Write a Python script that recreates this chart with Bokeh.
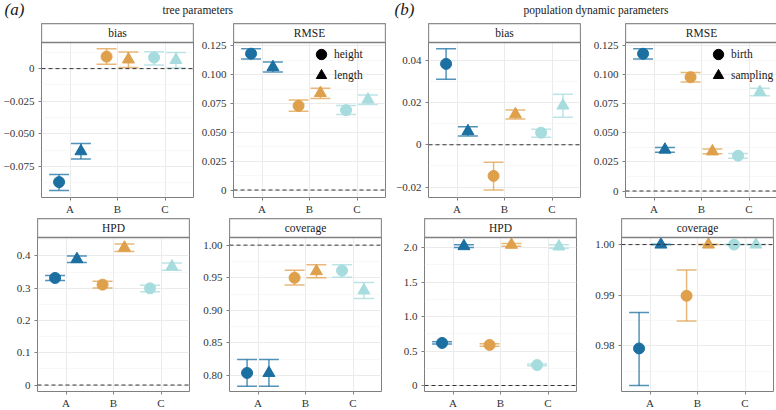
import numpy as np
from bokeh.plotting import figure
from bokeh.layouts import column, row
from bokeh.models import (ColumnDataSource, FixedTicker, Range1d, Span,
                          Legend, LegendItem, BoxAnnotation, Label)
from bokeh.core.properties import value
from bokeh.embed import file_html
from bokeh.resources import INLINE

# ---------------- data ----------------
categories = ["A", "B", "C"]
colors = ["#1B6FA1", "#DFA04C", "#A7DCDE"]

# (a) tree parameters : series "height" (circle) and "length" (triangle)
tree_bias_height = [-0.0869, 0.0092, 0.0085]
tree_bias_height_lo = [-0.0933, 0.0034, 0.0028]
tree_bias_height_hi = [-0.0810, 0.0152, 0.0130]
tree_bias_length = [-0.0633, 0.0070, 0.0066]
tree_bias_length_lo = [-0.0692, 0.0008, 0.0005]
tree_bias_length_hi = [-0.0574, 0.0128, 0.0123]

tree_rmse_height = [0.1183, 0.0731, 0.0693]
tree_rmse_height_lo = [0.1136, 0.0684, 0.0655]
tree_rmse_height_hi = [0.1226, 0.0780, 0.0734]
tree_rmse_length = [0.1066, 0.0841, 0.0785]
tree_rmse_length_lo = [0.1025, 0.0795, 0.0743]
tree_rmse_length_hi = [0.1110, 0.0883, 0.0824]

tree_hpd_height = [0.3316, 0.3110, 0.2995]
tree_hpd_height_lo = [0.3235, 0.3005, 0.2890]
tree_hpd_height_hi = [0.3390, 0.3213, 0.3089]
tree_hpd_length = [0.3900, 0.4255, 0.3670]
tree_hpd_length_lo = [0.3795, 0.4137, 0.3555]
tree_hpd_length_hi = [0.4000, 0.4370, 0.3780]

tree_cov_height = [0.8040, 0.9500, 0.9610]
tree_cov_height_lo = [0.7836, 0.9387, 0.9506]
tree_cov_height_hi = [0.8245, 0.9613, 0.9700]
tree_cov_length = [0.8040, 0.9600, 0.9305]
tree_cov_length_lo = [0.7836, 0.9500, 0.9182]
tree_cov_length_hi = [0.8245, 0.9700, 0.9427]

# (b) population dynamic parameters : series "birth" (circle) and "sampling" (triangle)
pop_bias_birth = [0.0382, -0.0147, 0.0057]
pop_bias_birth_lo = [0.0310, -0.0213, 0.0036]
pop_bias_birth_hi = [0.0453, -0.0083, 0.0073]
pop_bias_sampling = [0.0064, 0.0144, 0.0185]
pop_bias_sampling_lo = [0.0041, 0.0122, 0.0130]
pop_bias_sampling_hi = [0.0085, 0.0164, 0.0239]

pop_rmse_birth = [0.1183, 0.0981, 0.0304]
pop_rmse_birth_lo = [0.1137, 0.0940, 0.0283]
pop_rmse_birth_hi = [0.1227, 0.1021, 0.0324]
pop_rmse_sampling = [0.0356, 0.0341, 0.0853]
pop_rmse_sampling_lo = [0.0335, 0.0321, 0.0821]
pop_rmse_sampling_hi = [0.0376, 0.0361, 0.0885]

pop_hpd_birth = [0.617, 0.588, 0.297]
pop_hpd_birth_lo = [0.600, 0.570, 0.285]
pop_hpd_birth_hi = [0.635, 0.605, 0.310]
pop_hpd_sampling = [2.020, 2.040, 2.015]
pop_hpd_sampling_lo = [2.000, 2.020, 1.990]
pop_hpd_sampling_hi = [2.040, 2.060, 2.040]

pop_cov_birth = [0.9795, 0.9899, 1.0000]
pop_cov_birth_lo = [0.9722, 0.9849, 1.0000]
pop_cov_birth_hi = [0.9866, 0.9950, 1.0000]
pop_cov_sampling = [1.0000, 1.0000, 1.0000]
pop_cov_sampling_lo = [1.0000, 1.0000, 1.0000]
pop_cov_sampling_hi = [1.0000, 1.0000, 1.0000]

# tick values and labels
ticks_tree_bias = [-0.075, -0.05, -0.025, 0.0]
labels_tree_bias = ["\u22120.075", "\u22120.050", "\u22120.025", "0"]
ticks_rmse = [0.0, 0.025, 0.05, 0.075, 0.1, 0.125]
labels_rmse = ["0", "0.025", "0.050", "0.075", "0.100", "0.125"]
ticks_pop_bias = [-0.02, 0.0, 0.02, 0.04]
labels_pop_bias = ["\u22120.02", "0", "0.02", "0.04"]
ticks_tree_hpd = [0.0, 0.1, 0.2, 0.3, 0.4]
labels_tree_hpd = ["0", "0.1", "0.2", "0.3", "0.4"]
ticks_tree_cov = [0.80, 0.85, 0.90, 0.95, 1.00]
labels_tree_cov = ["0.80", "0.85", "0.90", "0.95", "1.00"]
ticks_pop_hpd = [0.0, 0.5, 1.0, 1.5, 2.0]
labels_pop_hpd = ["0", "0.5", "1.0", "1.5", "2.0"]
ticks_pop_cov = [0.98, 0.99, 1.00]
labels_pop_cov = ["0.98", "0.99", "1.00"]

# ---------------- styling ----------------
FONT = "Liberation Serif"
DODGE = 0.23
CAP = 0.21
FW = 152
STRIP = 19
BORDER_COL = "#7f7f7f"
XLO, XHI = 0.4, 3.6
LEG_G = 26


def minor_of(ticks, lo, hi):
    t = np.array(ticks, dtype=float)
    step = t[1] - t[0]
    m = np.arange(t[0] - step / 2, hi + step, step)
    return [float(v) for v in m if lo <= v <= hi]


def panel(strip, series, yr, ticks, labels, ref, left, right, dh, top, bottom,
          legend_names=None, legend_x=None):
    y0, y1 = yr
    y_top = y1 + STRIP * (y1 - y0) / dh          # extra room for the facet strip
    p = figure(frame_width=FW, frame_height=dh + STRIP, output_backend="svg",
               toolbar_location=None, x_range=Range1d(XLO, XHI),
               y_range=Range1d(y0, y_top), min_border_left=left,
               min_border_right=right, min_border_top=top,
               min_border_bottom=bottom)
    p.outline_line_color = BORDER_COL
    p.outline_line_width = 1

    xi = np.arange(1, len(categories) + 1, dtype=float)
    for k, (mid, lo, hi, marker, msize) in enumerate(series):
        off = -DODGE if k == 0 else DODGE
        xs = xi + off
        src = ColumnDataSource(dict(x=xs, y=mid, lo=lo, hi=hi,
                                    x0=xs - CAP, x1=xs + CAP, c=colors))
        for (a0, b0, a1, b1) in (("x", "lo", "x", "hi"), ("x0", "lo", "x1", "lo"),
                                 ("x0", "hi", "x1", "hi")):
            p.segment(x0=a0, y0=b0, x1=a1, y1=b1, source=src,
                      line_color="c", line_width=1.5, line_alpha=0.75)
    for k, (mid, lo, hi, marker, msize) in enumerate(series):
        off = -DODGE if k == 0 else DODGE
        src = ColumnDataSource(dict(x=xi + off, y=mid, c=colors))
        p.scatter("x", "y", source=src, marker=marker, size=msize,
                  fill_color="c", line_color="c")
    p.add_layout(Span(location=ref, dimension="width", line_color="#333333",
                      line_dash="4 3", line_width=1))

    # facet strip
    p.add_layout(BoxAnnotation(left=XLO, right=XHI, bottom=y1, top=y_top,
                               fill_color="white", fill_alpha=1.0,
                               line_color=BORDER_COL, line_alpha=1.0,
                               line_width=1.3, level="annotation"))
    p.add_layout(Label(x=(XLO + XHI) / 2, y=(y1 + y_top) / 2, text=strip,
                       text_font=FONT, text_font_size="11.5px",
                       text_align="center", text_baseline="middle",
                       text_color="#1a1a1a"))

    if legend_names:
        for j, (name, (_, _, _, marker, msize)) in enumerate(zip(legend_names, series)):
            r = p.scatter(x=[np.nan], y=[np.nan], marker=marker, size=msize,
                          fill_color="black", line_color="black")
            row_center = 12 + 21 * j          # px below the top of the data area
            lg = Legend(items=[LegendItem(label=name, renderers=[r], index=0)],
                        location=(legend_x, dh - row_center - LEG_G // 2),
                        glyph_width=LEG_G, glyph_height=LEG_G, label_standoff=-2,
                        padding=0, margin=0, border_line_color=None,
                        background_fill_alpha=0, label_text_font=FONT,
                        label_text_font_size="11.5px", label_text_color="#1a1a1a",
                        label_height=20)
            p.add_layout(lg)

    p.xaxis.ticker = FixedTicker(ticks=[1, 2, 3])
    p.xaxis.major_label_overrides = {i + 1: c for i, c in enumerate(categories)}
    p.yaxis.ticker = FixedTicker(ticks=ticks, minor_ticks=minor_of(ticks, y0, y1))
    p.yaxis.major_label_overrides = {t: l for t, l in zip(ticks, labels)}
    for ax in p.xaxis + p.yaxis:
        ax.axis_line_color = None
        ax.major_tick_line_color = BORDER_COL
        ax.major_tick_out = 3
        ax.major_tick_in = 0
        ax.minor_tick_line_color = None
        ax.major_label_standoff = 3
        ax.major_label_text_font = FONT
        ax.major_label_text_font_size = "11px"
        ax.major_label_text_color = "#333333"
    p.xaxis.major_label_standoff = 2
    p.xgrid.grid_line_color = "#EBEBEB"
    p.ygrid.grid_line_color = "#EBEBEB"
    p.ygrid.minor_grid_line_color = "#F3F3F3"
    p.ygrid.minor_grid_line_width = 0.6
    return p


borders = [(37, 1), (39, 1), (42, 1), (44, 2)]
TOP_DH, BOT_DH = 155, 154

f1 = panel("bias", [(tree_bias_height, tree_bias_height_lo, tree_bias_height_hi, "circle", 11),
                    (tree_bias_length, tree_bias_length_lo, tree_bias_length_hi, "triangle", 12)],
           (-0.0987, 0.0200), ticks_tree_bias, labels_tree_bias, 0.0,
           *borders[0], TOP_DH, 1, 20)
f2 = panel("RMSE", [(tree_rmse_height, tree_rmse_height_lo, tree_rmse_height_hi, "circle", 11),
                    (tree_rmse_length, tree_rmse_length_lo, tree_rmse_length_hi, "triangle", 12)],
           (-0.0065, 0.1280), ticks_rmse, labels_rmse, 0.0,
           *borders[1], TOP_DH, 1, 20, ["height", "length"], 75)
f3 = panel("bias", [(pop_bias_birth, pop_bias_birth_lo, pop_bias_birth_hi, "circle", 11),
                    (pop_bias_sampling, pop_bias_sampling_lo, pop_bias_sampling_hi, "triangle", 12)],
           (-0.0249, 0.0483), ticks_pop_bias, labels_pop_bias, 0.0,
           *borders[2], TOP_DH, 1, 20)
f4 = panel("RMSE", [(pop_rmse_birth, pop_rmse_birth_lo, pop_rmse_birth_hi, "circle", 11),
                    (pop_rmse_sampling, pop_rmse_sampling_lo, pop_rmse_sampling_hi, "triangle", 12)],
           (-0.0056, 0.1280), ticks_rmse, labels_rmse, 0.0,
           *borders[3], TOP_DH, 1, 20, ["birth", "sampling"], 80)

f5 = panel("HPD", [(tree_hpd_height, tree_hpd_height_lo, tree_hpd_height_hi, "circle", 11),
                   (tree_hpd_length, tree_hpd_length_lo, tree_hpd_length_hi, "triangle", 12)],
           (-0.020, 0.457), ticks_tree_hpd, labels_tree_hpd, 0.0,
           *borders[0], BOT_DH, 1, 19)
f6 = panel("coverage", [(tree_cov_height, tree_cov_height_lo, tree_cov_height_hi, "circle", 11),
                        (tree_cov_length, tree_cov_length_lo, tree_cov_length_hi, "triangle", 12)],
           (0.7756, 1.0117), ticks_tree_cov, labels_tree_cov, 1.0,
           *borders[1], BOT_DH, 1, 19)
f7 = panel("HPD", [(pop_hpd_birth, pop_hpd_birth_lo, pop_hpd_birth_hi, "circle", 11),
                   (pop_hpd_sampling, pop_hpd_sampling_lo, pop_hpd_sampling_hi, "triangle", 12)],
           (-0.087, 2.146), ticks_pop_hpd, labels_pop_hpd, 0.0,
           *borders[2], BOT_DH, 1, 19)
f8 = panel("coverage", [(pop_cov_birth, pop_cov_birth_lo, pop_cov_birth_hi, "circle", 11),
                        (pop_cov_sampling, pop_cov_sampling_lo, pop_cov_sampling_hi, "triangle", 12)],
           (0.9710, 1.0014), ticks_pop_cov, labels_pop_cov, 1.0,
           *borders[3], BOT_DH, 1, 19)

# header with panel-group titles
HDR_H = 22
total_w = sum(l + FW + r for l, r in borders)
hdr = figure(width=total_w, height=HDR_H, output_backend="svg", toolbar_location=None,
             x_range=Range1d(0, total_w), y_range=Range1d(0, HDR_H),
             min_border=0, outline_line_color=None)
hdr.axis.visible = False
hdr.grid.visible = False
hdr.text(x=[4, 394], y=[13, 13], text=["(a)", "(b)"], text_font=value(FONT),
         text_font_style="italic", text_font_size="17px",
         text_baseline="middle", text_align="left", text_color="#1a1a1a")
hdr.text(x=[162, 523], y=[13, 13], text=["tree parameters", "population dynamic parameters"],
         text_font=value(FONT), text_font_size="11.5px", text_baseline="middle",
         text_align="left", text_color="#1a1a1a")

layout = column(hdr, row(f1, f2, f3, f4, spacing=0), row(f5, f6, f7, f8, spacing=0),
                spacing=0)
open("out.html", "w").write(file_html(layout, INLINE))
